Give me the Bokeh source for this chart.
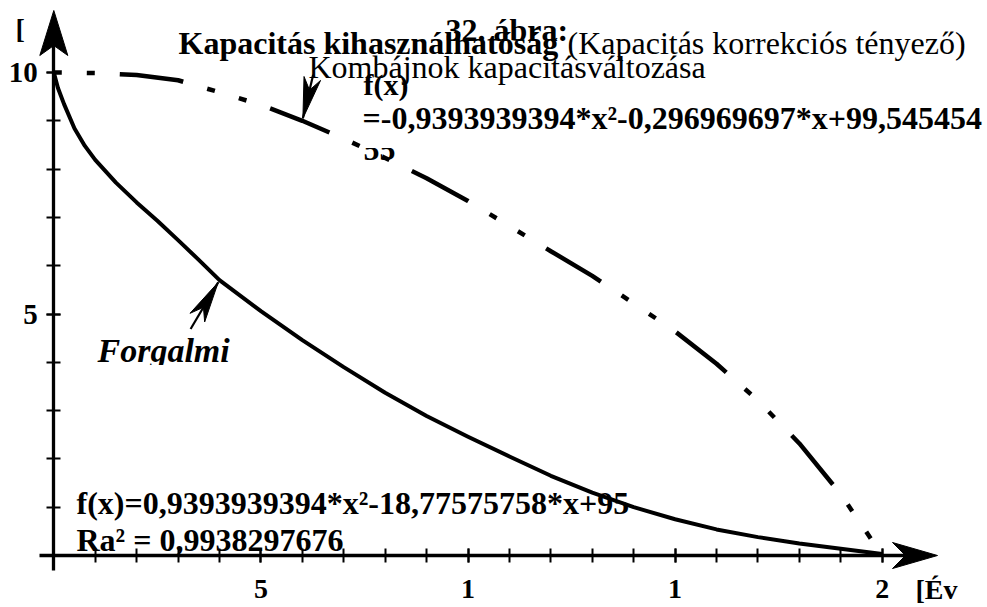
import math

from bokeh.plotting import figure
from bokeh.models import (Range1d, LinearAxis, FixedTicker, Label, Arrow,
                          BoxAnnotation)
from bokeh.embed import file_html
from bokeh.resources import INLINE

# --- data -------------------------------------------------------------
# "Forgalmi" capacity curve: years vs. percent
forgalmi_years = [0, 0.1, 0.25, 0.5, 0.75, 1, 1.5, 2, 2.5, 3, 3.5, 4, 5, 6,
                  7, 8, 9, 10, 11, 12, 13, 14, 15, 16, 17, 18, 19, 20]
forgalmi_values = [100, 96.8, 93.4, 88.4, 84.8, 81.9, 77.2, 73.1, 69.3,
                   65.3, 61.2, 57.0, 50.6, 44.6, 39.0, 33.7, 28.9, 24.6,
                   20.5, 16.5, 13.0, 10.0, 7.5, 5.4, 3.8, 2.5, 1.4, 0.3]

# combine-harvester capacity curve (dash-dot)
kombajn_years = list(range(21))
kombajn_values = [100, 99.9, 99.5, 98.4, 95.9, 93.3, 90.0, 86.3, 82.3,
                  78.1, 73.4, 68.2, 63.0, 57.9, 52.2, 46.4, 39.7, 32.1,
                  23.2, 12.7, 0.0]

x_tick_values = [5, 10, 15, 20]
x_tick_labels = ["5", "1", "1", "2"]
x_minor_ticks = list(range(0, 21))
y_tick_values = [50, 100]
y_tick_labels = ["5", "10"]
y_minor_ticks = list(range(0, 101, 10))

# pointer anchors (index into the series)
forgalmi_pointer_idx = forgalmi_years.index(4)
kombajn_pointer_idx = kombajn_years.index(6)

# --- layout helpers: pixel position <-> data coordinate ---------------
W, H = 987, 607
OX, OY = 53.3, 555.0          # origin in pixels
PX_X, PX_Y = 41.42, 4.83      # pixels per year / per percent


def sx(px):
    return (px - OX) / PX_X


def sy(py):
    return (OY - py) / PX_Y


def to_px(x, y):
    return OX + x * PX_X, OY - y * PX_Y


FONT = "Liberation Serif"

p = figure(width=W, height=H, min_border=0,
           x_range=Range1d(sx(0), sx(W)), y_range=Range1d(sy(H), sy(0)),
           x_axis_location=None, y_axis_location=None,
           toolbar_location=None, output_backend="svg",
           outline_line_color=None, background_fill_color="white",
           border_fill_color="white")
p.grid.visible = False

axis_style = dict(axis_line_width=3.3, axis_line_color="black",
                  major_tick_line_width=2, minor_tick_line_width=2,
                  major_tick_line_color="black", minor_tick_line_color="black",
                  major_tick_in=7, major_tick_out=7,
                  minor_tick_in=7, minor_tick_out=7,
                  major_label_text_font=FONT,
                  major_label_text_font_style="bold",
                  major_label_text_color="black")

xaxis = LinearAxis(fixed_location=0, bounds=(sx(39), sx(915)),
                   ticker=FixedTicker(ticks=x_tick_values,
                                      minor_ticks=x_minor_ticks),
                   major_label_overrides=dict(zip(x_tick_values, x_tick_labels)),
                   major_label_standoff=17, major_label_text_font_size="28px",
                   **axis_style)
yaxis = LinearAxis(fixed_location=0, bounds=(sy(570), sy(40)),
                   ticker=FixedTicker(ticks=y_tick_values,
                                      minor_ticks=y_minor_ticks),
                   major_label_overrides=dict(zip(y_tick_values, y_tick_labels)),
                   major_label_standoff=9, major_label_text_font_size="29px",
                   **axis_style)
p.add_layout(xaxis, "below")
p.add_layout(yaxis, "left")


def arrow_head(tip, direction, length, half, notch):
    """Filled notched arrowhead; tip in pixels, direction as a pixel vector."""
    tx, ty = tip
    n = math.hypot(*direction)
    ux, uy = direction[0] / n, direction[1] / n
    nx, ny = -uy, ux
    bx, by = tx - ux * length, ty - uy * length
    pts = [(tx, ty), (bx + nx * half, by + ny * half),
           (tx - ux * notch, ty - uy * notch), (bx - nx * half, by - ny * half)]
    p.patch([sx(a) for a, _ in pts], [sy(b) for _, b in pts],
            fill_color="black", line_color="black", line_width=1)


# axis arrowheads
arrow_head(to_px(0, 0)[:1] + (10,), (0, -1), 45, 14, 35)
arrow_head((937, to_px(0, 0)[1]), (1, 0), 45, 13, 32)

# curves
p.line(forgalmi_years, forgalmi_values, line_width=4, line_color="black",
       line_join="round")
p.line(kombajn_years, kombajn_values, line_width=4.5, line_color="black",
       line_dash="64 25 8 25 8 25", line_dash_offset=89)


def pointer(x, y, tail_offset, gap):
    """Pointer from a tail (pixel offset) to the edge of the curve at (x, y)."""
    cx, cy = to_px(x, y)
    vx, vy = -tail_offset[0], -tail_offset[1]
    n = math.hypot(vx, vy)
    tip = (cx - vx / n * gap, cy - vy / n * gap)
    tail = (tip[0] + tail_offset[0], tip[1] + tail_offset[1])
    p.add_layout(Arrow(end=None, x_start=sx(tail[0]), y_start=sy(tail[1]),
                       x_end=sx(tip[0]), y_end=sy(tip[1]),
                       line_width=2.2, line_color="black"))
    arrow_head(tip, (vx, vy), 41, 8.5, 29)


pointer(forgalmi_years[forgalmi_pointer_idx],
        forgalmi_values[forgalmi_pointer_idx], (-27.6, 46.7), 2.5)
pointer(kombajn_years[kombajn_pointer_idx],
        kombajn_values[kombajn_pointer_idx], (10.3, -43.7), 2.5)


def text(s, px, baseline, size=32, style="bold"):
    # the label is anchored on its text box, so lift it by the
    # distance between the box centre and the alphabetic baseline
    p.add_layout(Label(x=sx(px), y=sy(baseline - 0.34 * size), text=s,
                       text_font=FONT, text_font_size=f"{size}px",
                       text_font_style=style, text_color="black",
                       text_align="left", text_baseline="alphabetic"))


text("32. ábra:", 445, 40)
text("Kapacitás kihasználhatóság", 178, 53)
text("(Kapacitás korrekciós tényező)", 567, 53, style="normal")
text("Kombájnok kapacitásváltozása", 308, 77, style="normal")
text("f(x)", 363, 94, size=30)
text("=-0,9393939394*x²-0,296969697*x+99,545454", 362, 128)
text("55", 363, 160)
text("Forgalmi", 97, 362, size=34, style="bold italic")
text("f(x)=0,9393939394*x²-18,77575758*x+95", 76, 513)
text("Ra² = 0,9938297676", 76, 550)
text("[", 15, 38, size=28)
text("[Év", 915, 599, size=28)

# clipped text boxes
p.add_layout(BoxAnnotation(left=sx(363), right=sx(400), top=sy(134), bottom=sy(147.5),
                           fill_color="white", fill_alpha=1.0, line_alpha=0))
p.add_layout(BoxAnnotation(left=sx(92), right=sx(240), top=sy(364.5), bottom=sy(382),
                           fill_color="white", fill_alpha=1.0, line_alpha=0))

open("out.html", "w").write(file_html(p, INLINE))
